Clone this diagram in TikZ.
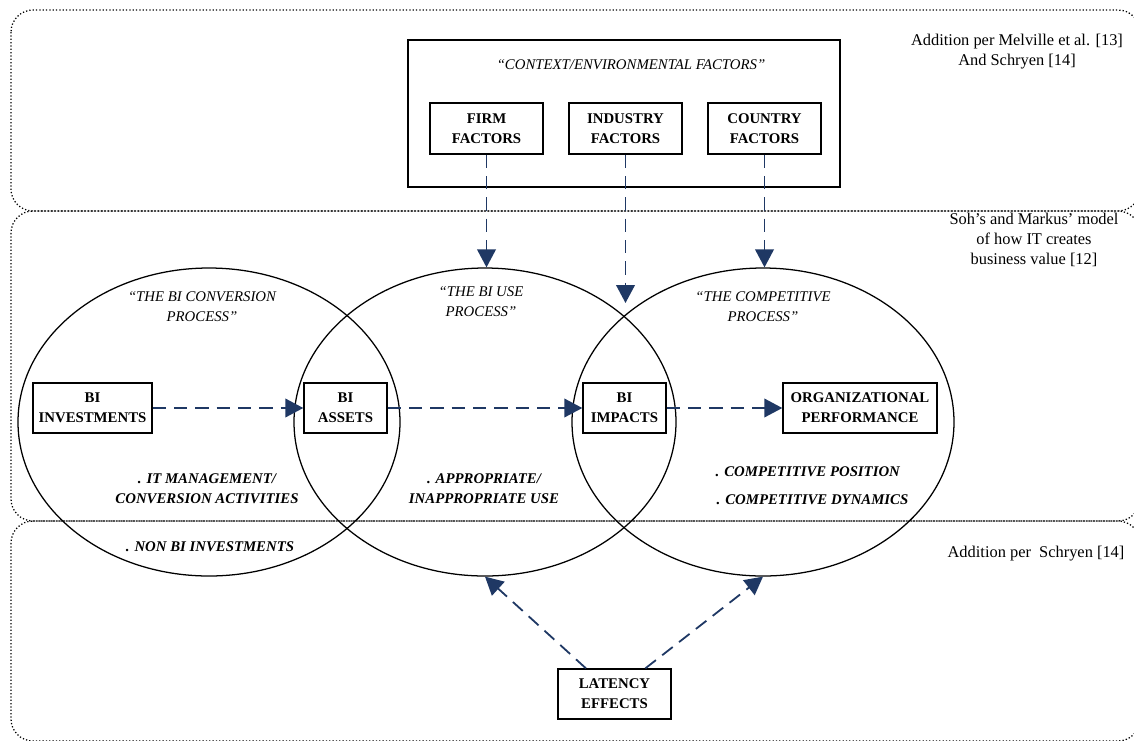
\documentclass[tikz,border=0pt]{standalone}
\usepackage{fontspec}
\setmainfont{Liberation Serif}
\usetikzlibrary{arrows.meta,shapes.geometric,calc}
\definecolor{flowblue}{HTML}{1F3864}

\begin{document}
\begin{tikzpicture}[x=0.75pt,y=-0.75pt,
  region/.style={draw=black,line width=0.95pt,dash pattern=on 0.95pt off 1.55pt,rounded corners=16.5pt},
  box/.style={draw=black,line width=1.05pt,inner sep=0pt,align=center,
    font=\fontsize{11.1}{15}\selectfont\bfseries},
  proc/.style={ellipse,draw=black,line width=0.95pt,minimum width=286.5pt,
    minimum height=231pt,inner sep=0pt},
  title/.style={align=center,font=\fontsize{11.1}{15}\selectfont\itshape},
  bullet/.style={align=center,font=\fontsize{11.1}{15}\selectfont\bfseries\itshape},
  note/.style={align=center,font=\fontsize{12.3}{15}\selectfont},
  flow/.style={draw=flowblue,line width=1.35pt,dash pattern=on 10pt off 6pt,
    -{Triangle[length=13.5pt,width=14pt]}},
]
\useasboundingbox (0,0) rectangle (1134,740);

% three stacked dotted regions
\begin{scope}
  \clip (0,0) rectangle (1134,740);
  \draw[region] (11,10) rectangle (1140,211);
  \draw[region] (11,211) rectangle (1140,521);
  \draw[region] (11,521) rectangle (1140,741);
\end{scope}

% region notes
\node[note] (n1) at (1017,52) {Addition per Melville et al. [13]\\And Schryen [14]};
\node[note] (n2) at (1034,240) {Soh’s and Markus’ model\\of how IT creates\\business value [12]};
\node[note] (n3) at (1036,554) {Addition per\ \ Schryen [14]};

% context box
\node[draw=black,line width=1.05pt,minimum width=324pt,minimum height=110.25pt,inner sep=0pt]
  (context) at (624,113.5) {};
\node[title] (ctitle) at (631,65) {“CONTEXT/ENVIRONMENTAL FACTORS”};
\node[box,minimum width=84.75pt,minimum height=38.25pt] (firm) at (486.5,128.5) {FIRM\\FACTORS};
\node[box,minimum width=84.75pt,minimum height=38.25pt] (industry) at (625.5,128.5) {INDUSTRY\\FACTORS};
\node[box,minimum width=84.75pt,minimum height=38.25pt] (country) at (764.5,128.5) {COUNTRY\\FACTORS};

% process ellipses
\node[proc] (conv) at (209,422) {};
\node[proc] (use) at (485,422) {};
\node[proc] (comp) at (763,422) {};

\node[title] (t1) at (202,307) {“THE BI CONVERSION\\PROCESS”};
\node[title] (t2) at (481,302) {“THE BI USE\\PROCESS”};
\node[title] (t3) at (763,307) {“THE COMPETITIVE\\PROCESS”};

% value chain boxes
\node[box,minimum width=89.25pt,minimum height=37.5pt] (inv) at (92.5,408) {BI\\INVESTMENTS};
\node[box,minimum width=62.25pt,minimum height=37.5pt] (assets) at (345.5,408) {BI\\ASSETS};
\node[box,minimum width=62.25pt,minimum height=37.5pt] (impacts) at (624.5,408) {BI\\IMPACTS};
\node[box,minimum width=115.5pt,minimum height=37.5pt] (perf) at (860,408) {ORGANIZATIONAL\\PERFORMANCE};
\node[box,minimum width=84.75pt,minimum height=37.5pt] (latency) at (614.5,694) {LATENCY\\EFFECTS};

% activities
\node[bullet] (b1) at (207,489) {. IT MANAGEMENT/\\CONVERSION ACTIVITIES};
\node[bullet] (b2) at (210,547) {. NON BI INVESTMENTS};
\node[bullet] (b3) at (484,489) {. APPROPRIATE/\\INAPPROPRIATE USE};
\node[bullet,anchor=west] (b4) at (711,472) {. COMPETITIVE POSITION};
\node[bullet,anchor=west] (b5) at (712,500) {. COMPETITIVE DYNAMICS};

% flows
\coordinate (ind-end) at (625.5,303);
\draw[flow] (firm.south) -- (firm.south |- use.north);
\draw[flow] (industry.south) -- (ind-end);
\draw[flow] (country.south) -- (country.south |- comp.north);
\draw[flow] (inv.east) -- (assets.west);
\draw[flow] (assets.east) -- (impacts.west);
\draw[flow] (impacts.east) -- (perf.west);
\draw[flow] ($(latency.north west)!0.25!(latency.north east)$) -- (use.south);
\draw[flow] ($(latency.north west)!0.77!(latency.north east)$) -- (comp.south);
\end{tikzpicture}
\end{document}
